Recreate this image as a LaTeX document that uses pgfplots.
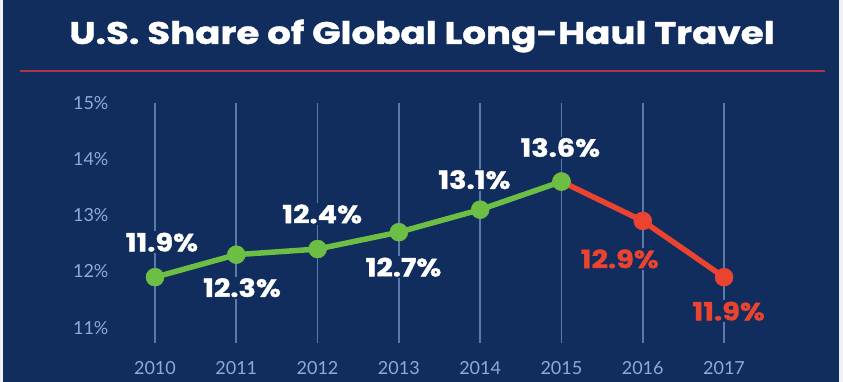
\documentclass[border=0pt]{standalone}
\usepackage{fontspec}
\setmainfont{Lato}
\newfontfamily\popp{Poppins}[BoldFeatures={FakeBold=1.2}]
\usepackage{pgfplots}
\pgfplotsset{compat=1.18}
\definecolor{bg}{HTML}{102D5D}
\definecolor{ticklab}{HTML}{8CABD9}
\definecolor{gridc}{HTML}{5A7AAD}
\definecolor{titlered}{HTML}{B03449}
\definecolor{lgreen}{HTML}{6DBE45}
\definecolor{lred}{HTML}{EA4330}
\tikzset{dlab/.style={font=\popp\bfseries\fontsize{25}{28}\selectfont, fill=bg, inner sep=1.5pt, xscale=1.15, transform shape}}
\begin{document}
\begin{tikzpicture}[x=1pt,y=1pt]
\fill[white!88!gray] (0,0) rectangle (843,382);
\fill[bg] (3,0) rectangle (839,382);
\node[font=\popp\bfseries\fontsize{31}{36}\selectfont, text=white, xscale=1.2, transform shape] at (422,346) {U.S. Share of Global Long-Haul Travel};
\draw[titlered, line width=2.5pt] (20,311) -- (825,311);
\begin{axis}[
  at={(111.9pt,39pt)}, anchor=south west,
  scale only axis, width=652.8pt, height=240.2pt,
  xmin=2009.47, xmax=2017.5, ymin=10.73, ymax=15,
  axis line style={draw=none}, tick style={draw=none},
  xtick={2010,...,2017}, ytick={11,...,15},
  xmajorgrids, grid style={gridc, line width=1.6pt},
  /pgf/number format/1000 sep={},
  /pgf/number format/assume math mode=true,
  yticklabel={\pgfmathprintnumber{\tick}\%},
  ticklabel style={font=\fontsize{18}{20}\selectfont, text=ticklab},
  xticklabel style={yshift=-15pt},
  clip=false,
]
\addplot[lred, line width=5.5pt, mark=*, mark size=9pt, mark options={line width=0.5pt}] coordinates {(2015,13.6) (2016,12.9) (2017,11.9)};
\addplot[lgreen, line width=5.5pt, mark=*, mark size=9pt, mark options={line width=0.5pt}] coordinates {(2010,11.9) (2011,12.3) (2012,12.4) (2013,12.7) (2014,13.1) (2015,13.6)};
\node[dlab, text=white, xshift=6pt, yshift=35pt] at (axis cs:2010,11.9) {11.9\%};
\node[dlab, text=white, xshift=5pt, yshift=-33pt] at (axis cs:2011,12.3) {12.3\%};
\node[dlab, text=white, xshift=4pt, yshift=35pt] at (axis cs:2012,12.4) {12.4\%};
\node[dlab, text=white, xshift=4pt, yshift=-35pt] at (axis cs:2013,12.7) {12.7\%};
\node[dlab, text=white, xshift=-5pt, yshift=30pt] at (axis cs:2014,13.1) {13.1\%};
\node[dlab, text=white, xshift=-1pt, yshift=34pt] at (axis cs:2015,13.6) {13.6\%};
\node[dlab, text=lred, xshift=-20pt, yshift=-38pt] at (axis cs:2016,12.9) {12.9\%};
\node[dlab, text=lred, xshift=4pt, yshift=-34pt] at (axis cs:2017,11.9) {11.9\%};
\end{axis}
\end{tikzpicture}
\end{document}
